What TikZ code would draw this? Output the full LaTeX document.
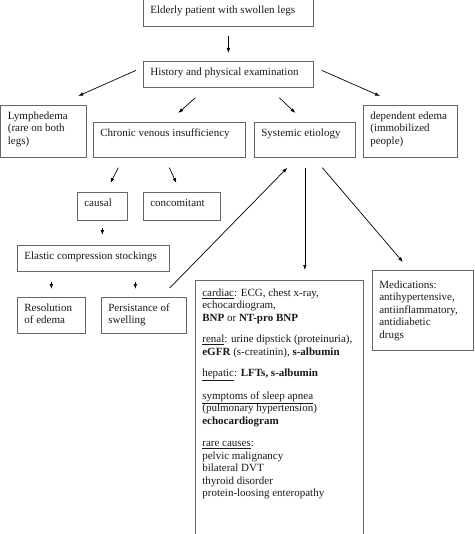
\documentclass[tikz,border=0pt]{standalone}
\usepackage{fontspec}
\setmainfont{Liberation Serif}
\usepackage{tikz}
\usetikzlibrary{arrows.meta}

\begin{document}
\begin{tikzpicture}[x=1pt, y=-1pt,
    box/.style={draw=black!60, line width=0.7pt, anchor=north west, align=flush left,
        inner xsep=7pt, inner ysep=6.5pt, text height=7.5pt, text=black!90,
        font=\fontsize{11}{12.5}\selectfont},
    arr/.style={-{Latex[length=5pt,width=3.6pt]}, line width=0.7pt}]
    \useasboundingbox (0,0) rectangle (474,534);
    \clip (0,0) rectangle (474,534);

    % first two steps
    \node[box, text width=156pt, text depth=6.5pt] (elderly) at (143,-1) {Elderly patient with swollen legs};
    \node[box, text width=156pt, text depth=5.5pt] (history) at (143,61) {History and physical examination};

    % four groups of causes
    \node[box, text width=71pt, text depth=31.5pt] (lymph) at (0.5,105) {Lymphedema\\(rare on both\\legs)};
    \node[box, text width=138pt, text depth=14.5pt] (cvi) at (93,122) {Chronic venous insufficiency};
    \node[box, text width=87pt, text depth=14.5pt] (systemic) at (254,122) {Systemic etiology};
    \node[box, text width=80pt, text depth=31.5pt] (dependent) at (363,105) {dependent edema\\(immobilized\\people)};

    % venous branch
    \node[box, text width=36pt, text depth=7.5pt] (causal) at (77,192) {causal};
    \node[box, text width=63pt, text depth=7.5pt] (concomitant) at (143,192) {concomitant};
    \node[box, text width=138pt, text depth=5.5pt] (stockings) at (17,245) {Elastic compression stockings};
    \node[box, text width=54pt, text depth=15.5pt] (resolution) at (17,297) {Resolution\\of edema};
    \node[box, text width=71pt, text depth=15.5pt] (persist) at (101,297) {Persistance of\\swelling};

    % systemic branch
    \node[box, text width=154pt, text height=9.5pt, text depth=239.5pt] (tests) at (195,280) {%
        \underline{cardiac}: ECG, chest x-ray,\\
        echocardiogram,\\
        \textbf{BNP} or \textbf{NT-pro BNP}\\[9pt]
        \underline{renal}: urine dipstick (proteinuria),\\
        \textbf{eGFR} (s-creatinin), \textbf{s-albumin}\\[9pt]
        \underline{hepatic}: \textbf{LFTs, s-albumin}\\[10pt]
        \underline{symptoms of sleep apnea}\\
        (pulmonary hypertension)\\
        \textbf{echocardiogram}\\[10pt]
        \underline{rare causes}:\\
        pelvic malignancy\\
        bilateral DVT\\
        thyroid disorder\\
        protein-loosing enteropathy};
    \node[box, text width=87pt, text height=11.5pt, text depth=55.5pt] (meds) at (372,270) {Medications:\\antihypertensive,\\antiinflammatory,\\antidiabetic\\drugs};

    % arrows
    \draw[arr] ([shift={(0,9)}]elderly.south) -- ([shift={(0,-8)}]history.north);
    \draw[arr] ([shift={(-7,-4)}]history.west) -- ([shift={(-8,-9)}]lymph.north east);
    \draw[arr] ([shift={(-33,10)}]history.south) -- ([shift={(9,-9)}]cvi.north);
    \draw[arr] ([shift={(51,10)}]history.south) -- ([shift={(-9.5,-9)}]systemic.north);
    \draw[arr] ([shift={(8,-4)}]history.east) -- ([shift={(17,-9)}]dependent.north west);
    \draw[arr] ([shift={(-51,10)}]cvi.south) -- ([shift={(8,-9)}]causal.north);
    \draw[arr] ([shift={(0,10)}]cvi.south) -- ([shift={(-5.5,-9)}]concomitant.north);
    \draw[arr] ([shift={(0,7)}]causal.south) -- ([shift={(9,-10)}]stockings.north);
    \draw[arr] ([shift={(-42,10)}]stockings.south) -- ([shift={(0,-8)}]resolution.north);
    \draw[arr] ([shift={(42,10)}]stockings.south) -- ([shift={(-8.5,-8)}]persist.north);
    \draw[arr] ([shift={(-17,-9)}]persist.north east) -- ([shift={(-17.5,10)}]systemic.south);
    \draw[arr] ([shift={(0,10)}]systemic.south) -- ([shift={(25.5,-10)}]tests.north);
    \draw[arr] ([shift={(17.5,10)}]systemic.south) -- ([shift={(-20,-8)}]meds.north);
\end{tikzpicture}
\end{document}
